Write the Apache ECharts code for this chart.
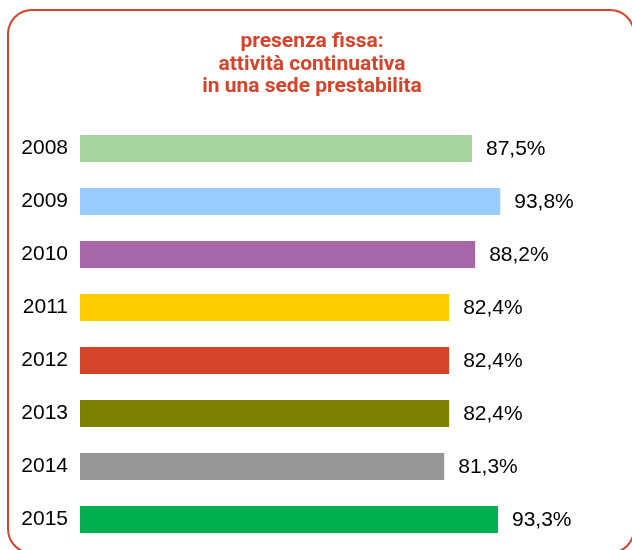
<!DOCTYPE html>
<html>
<head>
<meta charset="utf-8">
<script src="https://cdn.jsdelivr.net/npm/echarts@6/dist/echarts.min.js"></script>
<style>html,body{margin:0;padding:0;background:#fff}#c{width:632px;height:550px}</style>
</head>
<body>
<div id="c"></div>
<script>
const years = ['2008','2009','2010','2011','2012','2013','2014','2015'];
const values = [87.5, 93.8, 88.2, 82.4, 82.4, 82.4, 81.3, 93.3];
const colors = ['#A6D39E','#99CCFF','#A666A8','#FFCC00','#D54329','#808000','#969696','#00B050'];
const titleText = 'presenza fissa:\nattività continuativa\nin una sede prestabilita';

const chart = echarts.init(document.getElementById('c'));
chart.setOption({
  animation: false,
  title: {
    text: titleText,
    left: 307,
    top: 26,
    textAlign: 'center',
    textStyle: {
      fontFamily: 'Roboto',
      fontWeight: 'bold',
      fontSize: 21,
      lineHeight: 22.3,
      color: '#D5442A'
    }
  },
  graphic: [{
    type: 'rect',
    shape: {x: 8, y: 10, width: 626, height: 543, r: 24},
    style: {fill: 'none', stroke: '#D5442A', lineWidth: 2},
    silent: true
  }],
  grid: {left: 80, top: 122, width: 448, height: 424, containLabel: false},
  xAxis: {
    type: 'value', min: 0, max: 100, show: false
  },
  yAxis: {
    type: 'category', data: years, inverse: true,
    axisLine: {show: false}, axisTick: {show: false},
    axisLabel: {fontSize: 21, color: '#000', margin: 12, fontFamily: 'Liberation Sans'}
  },
  series: [{
    type: 'bar',
    data: values.map((v, i) => ({value: v, itemStyle: {color: colors[i]}})),
    barWidth: 27,
    label: {
      show: true, position: 'right', distance: 14, offset: [0, 1],
      fontSize: 21, color: '#000', fontFamily: 'Liberation Sans',
      formatter: p => p.value.toFixed(1).replace('.', ',') + '%'
    }
  }]
});
</script>
</body>
</html>
